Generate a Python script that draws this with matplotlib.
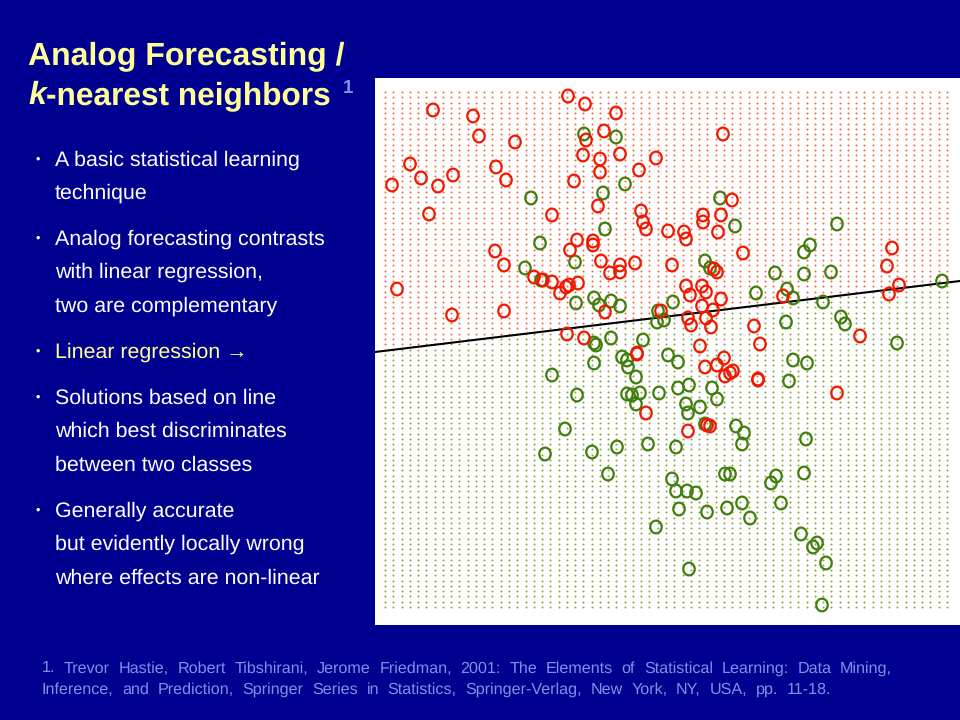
import numpy as np
import matplotlib
matplotlib.use("Agg")
import matplotlib.pyplot as plt
from matplotlib.path import Path
from matplotlib.transforms import Affine2D

plt.rcParams['font.family'] = ['Liberation Sans', 'DejaVu Sans']
plt.rcParams['text.hinting'] = 'none'

# points, in slide pixels
red_x = [433,473,479,515,410,421,438,392,453,429,496,506,568,585,616,604,586,583,600,620,656,600,574,639,723,
         552,598,641,643,646,668,684,686,703,703,721,718,732,743,577,593,593,570,495,504,601,620,620,610,635,672,
         534,543,552,560,566,569,578,397,452,504,686,690,702,706,714,717,721,713,702,706,711,691,688,661,605,
         567,584,637,637,700,754,760,783,860,892,887,899,889,724,717,705,725,730,733,758,758,837,646,688,707,710]
red_y = [110,116,136,142,164,178,186,185,175,214,167,180,96,104,113,131,140,155,159,154,158,172,181,170,134,
         215,206,211,222,229,231,232,239,215,222,215,232,200,253,240,241,245,250,251,265,261,265,272,273,263,265,
         277,280,282,293,287,285,283,289,315,311,286,295,286,292,269,272,299,310,306,318,327,325,318,311,312,
         334,338,353,354,346,326,344,296,336,248,266,285,294,358,365,367,376,373,371,379,380,393,413,431,425,426]
green_x = [584,616,625,603,531,720,605,540,735,837,810,804,705,710,575,525,831,775,804,787,756,793,823,541,
           594,599,576,611,620,673,658,657,664,841,845,786,897,942,611,594,596,643,668,678,622,627,628,636,594,
           793,807,552,577,627,632,640,636,659,678,689,712,717,686,700,688,789,565,736,744,742,705,806,592,617,
           545,648,676,608,672,676,687,696,725,730,776,771,804,742,781,727,707,679,750,656,801,817,813,826,689,822]
green_y = [134,137,184,193,198,198,229,243,226,224,245,252,261,268,262,268,272,273,274,289,293,298,302,280,
           298,305,303,301,306,302,311,322,320,317,324,322,343,281,338,343,345,340,355,362,357,360,367,377,363,
           360,363,375,395,394,395,393,404,393,388,385,388,399,404,407,413,381,429,426,433,444,424,439,452,447,
           454,444,447,474,479,491,491,493,474,474,476,483,473,503,503,508,512,509,518,527,534,543,547,563,569,605]
line_x = [375, 960]
line_y = [352, 281]

bullets = [
    (165.5, ["A basic statistical learning", "technique"], 'white'),
    (244.5, ["Analog forecasting contrasts", "with linear regression,", "two are complementary"], 'white'),
    (357.5, ["Linear regression \u2192"], '#ffff99'),
    (403.5, ["Solutions based on line", "which best discriminates", "between two classes"], 'white'),
    (516.5, ["Generally accurate", "but evidently locally wrong", "where effects are non-linear"], 'white'),
]
foot_1 = "1. Trevor Hastie, Robert Tibshirani, Jerome Friedman, 2001: The Elements of Statistical Learning: Data Mining,"
foot_2 = "Inference, and Prediction, Springer Series in Statistics, Springer-Verlag, New York, NY, USA, pp. 11-18."

BG = '#000090'
YELLOW = '#ffff99'
NOTE = '#8090e8'
W, H = 960, 720

fig = plt.figure(figsize=(9.6, 7.2), dpi=100, facecolor=BG)

# slide layer in pixel coords, for the text
slide = fig.add_axes([0, 0, 1, 1])
slide.set_xlim(0, W)
slide.set_ylim(H, 0)
slide.axis('off')
renderer = fig.canvas.get_renderer()

def justified(words_line, x0, x1, y, **kw):
    # spread the words so the line runs from x0 to x1
    words = words_line.split()
    items = [slide.text(0, y, w, va='baseline', **kw) for w in words]
    widths = [it.get_window_extent(renderer).width for it in items]
    gap = (x1 - x0 - sum(widths)) / (len(words) - 1)
    x = x0
    for it, wd in zip(items, widths):
        it.set_x(x)
        x += wd + gap

slide.text(28, 64, "Analog Forecasting /", color=YELLOW, fontsize=23, fontweight='bold', va='baseline')
k = slide.text(28, 104, "k", color=YELLOW, fontsize=23, fontweight='bold', style='italic', va='baseline')
k_w = k.get_window_extent(renderer).width
slide.text(28 + k_w, 104, "-nearest neighbors", color=YELLOW, fontsize=22.8, fontweight='bold', va='baseline')
slide.text(343, 93, "1", color=NOTE, fontsize=13.5, fontweight='bold', va='baseline')

for y0, lines, col in bullets:
    slide.text(36, y0 - 3, "\u2022", color=col, fontsize=9, va='baseline')
    for i, s in enumerate(lines):
        slide.text(55, y0 + i * 33.5, s, color=col, fontsize=15.4, va='baseline')

justified(foot_1, 42, 892, 672.5, color=NOTE, fontsize=11.6)
justified(foot_2, 42, 831, 693.5, color=NOTE, fontsize=11.6)

# white panel with the classifier plot
ax = fig.add_axes([375 / W, 1 - 625 / H, 585 / W, 547 / H], facecolor='white')
ax.set_xlim(375, 960)
ax.set_ylim(625, 78)
ax.set_xticks([])
ax.set_yticks([])
for s in ax.spines.values():
    s.set_visible(False)

# background lattice, coloured by the side of the line it falls on
gx, gy = np.meshgrid(np.linspace(385, 947, 69), np.linspace(92, 607, 99))
boundary = np.interp(gx, line_x, line_y)
above = gy < boundary
ax.scatter(gx[above], gy[above], s=2.1, color='#f06a40', linewidths=0)
ax.scatter(gx[~above], gy[~above], s=2.1, color='#8f9f45', linewidths=0)

ax.plot(line_x, line_y, color='black', lw=1.5, zorder=3)

# the data marks are a bit taller than wide, like a letter o
oval = Path.unit_circle().transformed(Affine2D().scale(0.9, 1))
ax.scatter(green_x, green_y, s=84, marker=oval, facecolors='none', edgecolors='#3f7f0c', linewidths=1.6, zorder=4)
ax.scatter(red_x, red_y, s=84, marker=oval, facecolors='none', edgecolors='#f01800', linewidths=1.6, zorder=5)

fig.savefig("out.png", dpi=100, facecolor=BG)
